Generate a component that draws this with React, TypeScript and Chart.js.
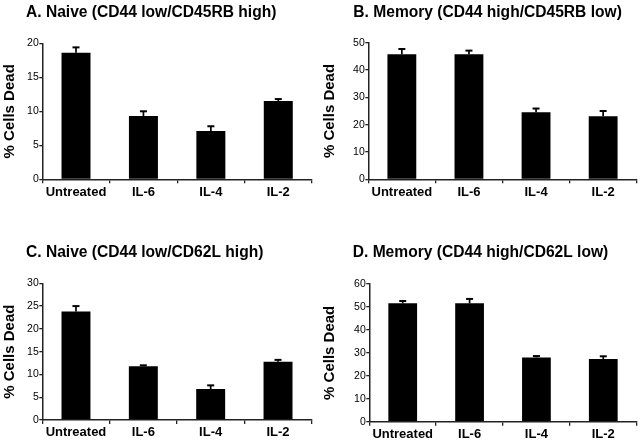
import React, { useEffect, useRef } from "react";
import { Chart, registerables } from "chart.js";

Chart.register(...registerables);

const categories = ["Untreated", "IL-6", "IL-4", "IL-2"];

const naiveCD45RBValues = [18.6, 9.3, 7.1, 11.5];
const naiveCD45RBErrors = [0.8, 0.7, 0.7, 0.3];

const memoryCD45RBValues = [45.8, 45.8, 24.5, 23.1];
const memoryCD45RBErrors = [1.9, 1.3, 1.4, 1.9];

const naiveCD62LValues = [23.8, 11.8, 6.8, 12.8];
const naiveCD62LErrors = [1.2, 0.2, 0.8, 0.4];

const memoryCD62LValues = [51.6, 51.6, 28.0, 27.3];
const memoryCD62LErrors = [1.0, 1.9, 0.6, 1.2];

const panelTitles = [
  "A. Naive (CD44 low/CD45RB high)",
  "B. Memory (CD44 high/CD45RB low)",
  "C. Naive (CD44 low/CD62L high)",
  "D. Memory (CD44 high/CD62L low)",
];

const yMaxes = [20, 50, 30, 60];
const yStepSizes = [5, 10, 5, 10];
const yAxisTitle = "% Cells Dead";

const FONT = "'Liberation Sans', Arial, Helvetica, sans-serif";

type PanelLayout = {
  left: number;
  top: number;
  axisLeft: number;
  rightPad: number;
  chartTop: number;
  chartBottom: number;
  titleX: number;
  titleBaseline: number;
};

const layouts: PanelLayout[] = [
  { left: 0, top: 0, axisLeft: 42.3, rightPad: 8, chartTop: 43.3, chartBottom: 179.3, titleX: 26, titleBaseline: 17.3 },
  { left: 320, top: 0, axisLeft: 48.3, rightPad: 3.3, chartTop: 42.7, chartBottom: 179.3, titleX: 33.3, titleBaseline: 17.3 },
  { left: 0, top: 220, axisLeft: 42.3, rightPad: 8.3, chartTop: 63.3, chartBottom: 200, titleX: 26, titleBaseline: 36.7 },
  { left: 320, top: 220, axisLeft: 49.3, rightPad: 3.3, chartTop: 64, chartBottom: 201.7, titleX: 32.7, titleBaseline: 37.3 },
];

const W = 320;
const H = 220;

const errorBarPlugin = {
  id: "errorBars",
  afterDatasetsDraw(chart: any, _args: any, opts: any) {
    const errs: number[] = opts.errors || [];
    const ctx = chart.ctx;
    const yScale = chart.scales.y;
    const meta = chart.getDatasetMeta(0);
    const values = chart.data.datasets[0].data as number[];
    ctx.save();
    ctx.strokeStyle = "#000";
    meta.data.forEach((el: any, i: number) => {
      const x = el.x;
      const yTop = el.y;
      const yErr = yScale.getPixelForValue(values[i] + errs[i]);
      ctx.lineWidth = 1.7;
      ctx.beginPath();
      ctx.moveTo(x, yTop);
      ctx.lineTo(x, yErr);
      ctx.stroke();
      ctx.lineWidth = 2;
      ctx.beginPath();
      ctx.moveTo(x - 3.5, yErr);
      ctx.lineTo(x + 3.5, yErr);
      ctx.stroke();
    });
    ctx.restore();
  },
};

const panelTitlePlugin = {
  id: "panelTitle",
  afterDraw(chart: any, _args: any, opts: any) {
    const ctx = chart.ctx;
    ctx.save();
    ctx.fillStyle = "#000";
    ctx.font = `bold 15.6px ${FONT}`;
    ctx.textAlign = "left";
    ctx.textBaseline = "alphabetic";
    ctx.fillText(opts.text, opts.x, opts.y);
    ctx.restore();
  },
};

function Panel({ index, values, errors }: { index: number; values: number[]; errors: number[] }) {
  const ref = useRef<HTMLCanvasElement | null>(null);
  const lay = layouts[index];
  useEffect(() => {
    if (!ref.current) return;
    const chart = new Chart(ref.current, {
      type: "bar",
      data: {
        labels: categories,
        datasets: [
          {
            data: values,
            backgroundColor: "#000",
            borderWidth: 0,
            categoryPercentage: 1,
            barPercentage: 0.43,
          },
        ],
      },
      options: {
        responsive: false,
        animation: false,
        layout: { padding: { top: lay.chartTop, right: lay.rightPad, left: 0, bottom: 0 } },
        plugins: {
          legend: { display: false },
          tooltip: { enabled: false },
          title: { display: false },
          errorBars: { errors },
          panelTitle: { text: panelTitles[index], x: lay.titleX, y: lay.titleBaseline },
        } as any,
        scales: {
          x: {
            grid: {
              display: true,
              drawOnChartArea: false,
              drawTicks: true,
              tickLength: 4,
              color: "#222",
              lineWidth: 1.3,
              offset: true,
            },
            border: { display: true, color: "#222", width: 1.5 },
            ticks: {
              color: "#000",
              padding: 1,
              font: { family: FONT, size: 13, weight: "bold" },
              maxRotation: 0,
              autoSkip: false,
            },
            afterFit(scale: any) {
              scale.height = H - lay.chartBottom;
            },
          },
          y: {
            min: 0,
            max: yMaxes[index],
            grid: {
              display: true,
              drawOnChartArea: false,
              drawTicks: true,
              tickLength: 3,
              color: "#222",
              lineWidth: 1.3,
            },
            border: { display: true, color: "#222", width: 1.5 },
            ticks: {
              stepSize: yStepSizes[index],
              color: "#000",
              padding: 0.5,
              font: { family: FONT, size: 10.5 },
            },
            title: {
              display: true,
              text: yAxisTitle,
              color: "#000",
              padding: { top: 1, bottom: 0 },
              font: { family: FONT, size: 15, weight: "bold" },
            },
            afterFit(scale: any) {
              scale.width = lay.axisLeft;
            },
          },
        },
      } as any,
      plugins: [errorBarPlugin, panelTitlePlugin],
    });
    return () => chart.destroy();
  }, []);
  return (
    <div style={{ position: "absolute", left: lay.left, top: lay.top, width: W, height: H }}>
      <canvas ref={ref} width={W} height={H} style={{ display: "block", width: W, height: H }} />
    </div>
  );
}

export default function App() {
  return (
    <div style={{ position: "absolute", left: 0, top: 0, width: 640, height: 440, background: "#fff" }}>
      <Panel index={0} values={naiveCD45RBValues} errors={naiveCD45RBErrors} />
      <Panel index={1} values={memoryCD45RBValues} errors={memoryCD45RBErrors} />
      <Panel index={2} values={naiveCD62LValues} errors={naiveCD62LErrors} />
      <Panel index={3} values={memoryCD62LValues} errors={memoryCD62LErrors} />
    </div>
  );
}
